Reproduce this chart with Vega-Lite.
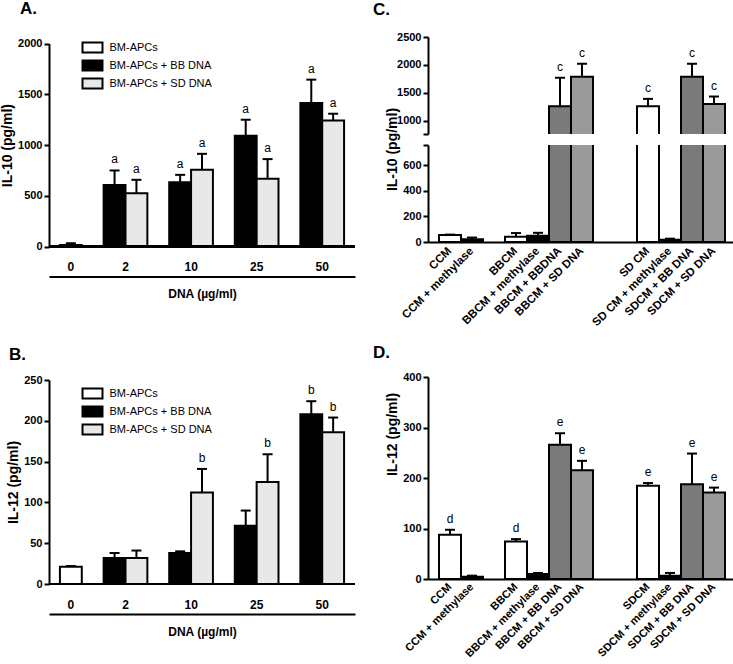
{
  "$schema": "https://vega.github.io/schema/vega-lite/v6.json",
  "padding": {"left": 0, "top": 0, "right": 0, "bottom": 0},
  "config": {
    "font": "Liberation Sans",
    "view": {"stroke": null},
    "axis": {"grid": false, "domainColor": "black", "domainWidth": 2, "tickColor": "black", "tickWidth": 2, "tickSize": 5, "labelColor": "black", "labelFontWeight": "bold", "labelFontSize": 11, "labelPadding": 2, "titleColor": "black", "titleFontWeight": "bold", "titleFontSize": 12, "titlePadding": 3},
    "axisY": {"titleFontSize": 14, "labelOverlap": false},
    "title": {"fontSize": 17, "fontWeight": "bold", "color": "black", "anchor": "start", "frame": "group"},
    "legend": {"labelColor": "black", "labelFontSize": 11, "labelFontWeight": "normal"},
    "text": {"color": "black"}
  },
  "datasets": {
    "A": [
      {"slot": "0|BM", "series": "BM-APCs", "value": 16, "hi": 33, "letter": ""},
      {"slot": "2|BB", "series": "BM-APCs + BB DNA", "value": 608, "hi": 750, "letter": "a"},
      {"slot": "2|SD", "series": "BM-APCs + SD DNA", "value": 526, "hi": 658, "letter": "a"},
      {"slot": "10|BB", "series": "BM-APCs + BB DNA", "value": 635, "hi": 707, "letter": "a"},
      {"slot": "10|SD", "series": "BM-APCs + SD DNA", "value": 757, "hi": 914, "letter": "a"},
      {"slot": "25|BB", "series": "BM-APCs + BB DNA", "value": 1092, "hi": 1250, "letter": "a"},
      {"slot": "25|SD", "series": "BM-APCs + SD DNA", "value": 668, "hi": 862, "letter": "a"},
      {"slot": "50|BB", "series": "BM-APCs + BB DNA", "value": 1414, "hi": 1645, "letter": "a"},
      {"slot": "50|SD", "series": "BM-APCs + SD DNA", "value": 1243, "hi": 1309, "letter": "a"}
    ],
    "B": [
      {"slot": "0|BM", "series": "BM-APCs", "value": 21, "hi": 22, "letter": ""},
      {"slot": "2|BB", "series": "BM-APCs + BB  DNA", "value": 32, "hi": 38, "letter": ""},
      {"slot": "2|SD", "series": "BM-APCs + SD DNA", "value": 32, "hi": 41, "letter": ""},
      {"slot": "10|BB", "series": "BM-APCs + BB  DNA", "value": 38, "hi": 40, "letter": ""},
      {"slot": "10|SD", "series": "BM-APCs + SD DNA", "value": 112, "hi": 141, "letter": "b"},
      {"slot": "25|BB", "series": "BM-APCs + BB  DNA", "value": 71.5, "hi": 90, "letter": ""},
      {"slot": "25|SD", "series": "BM-APCs + SD DNA", "value": 125, "hi": 159, "letter": "b"},
      {"slot": "50|BB", "series": "BM-APCs + BB  DNA", "value": 208, "hi": 224, "letter": "b"},
      {"slot": "50|SD", "series": "BM-APCs + SD DNA", "value": 186, "hi": 204, "letter": "b"}
    ],
    "C": [
      {"cat": "CCM", "kind": "medium", "value": 55, "hi": 58, "letter": ""},
      {"cat": "CCM + methylase", "kind": "methylase", "value": 22, "hi": 35, "letter": ""},
      {"cat": "BBCM", "kind": "medium", "value": 42, "hi": 70, "letter": ""},
      {"cat": "BBCM + methylase", "kind": "methylase", "value": 48, "hi": 72, "letter": ""},
      {"cat": "BBCM + BBDNA", "kind": "BB DNA", "value": 1257, "hi": 1769, "letter": "c"},
      {"cat": "BBCM + SD DNA", "kind": "SD DNA", "value": 1786, "hi": 2020, "letter": "c"},
      {"cat": "SD CM", "kind": "medium", "value": 1257, "hi": 1390, "letter": "c"},
      {"cat": "SD CM + methylase", "kind": "methylase", "value": 18, "hi": 26, "letter": ""},
      {"cat": "SDCM + BB DNA", "kind": "BB DNA", "value": 1786, "hi": 2020, "letter": "c"},
      {"cat": "SDCM + SD DNA", "kind": "SD DNA", "value": 1300, "hi": 1432, "letter": "c"}
    ],
    "D": [
      {"cat": "CCM", "kind": "medium", "value": 87.6, "hi": 97.5, "letter": "d"},
      {"cat": "CCM + methylase", "kind": "methylase", "value": 4.6, "hi": 6.6, "letter": ""},
      {"cat": "BBCM", "kind": "medium", "value": 74.5, "hi": 79, "letter": "d"},
      {"cat": "BBCM + methylase", "kind": "methylase", "value": 9.9, "hi": 11.9, "letter": ""},
      {"cat": "BBCM + BB DNA", "kind": "BB DNA", "value": 265.6, "hi": 288.6, "letter": "e"},
      {"cat": "BBCM + SD DNA", "kind": "SD DNA", "value": 215.5, "hi": 234, "letter": "e"},
      {"cat": "SDCM", "kind": "medium", "value": 184.5, "hi": 190, "letter": "e"},
      {"cat": "SDCM + methylase", "kind": "methylase", "value": 6.6, "hi": 12, "letter": ""},
      {"cat": "SDCM + BB DNA", "kind": "BB DNA", "value": 187.8, "hi": 248.4, "letter": "e"},
      {"cat": "SDCM + SD DNA", "kind": "SD DNA", "value": 171.3, "hi": 181, "letter": "e"}
    ]
  },
  "hconcat": [
    {
      "vconcat": [
        {
          "width": 306, "height": 209.6,
          "data": {"name": "A"},
          "title": {"text": "A.", "dx": -29, "offset": 19},
          "layer": [
            {
              "mark": {"type": "bar", "stroke": "black", "strokeWidth": 2},
              "encoding": {
                "x": {"field": "slot", "type": "nominal",
                  "scale": {"domain": ["0|BM", "_g1", "2|BB", "2|SD", "_g2", "10|BB", "10|SD", "_g3", "25|BB", "25|SD", "_g4", "50|BB", "50|SD"], "paddingInner": 0, "paddingOuter": 0.5},
                  "axis": {"title": "DNA  (µg/ml)", "offset": 30, "ticks": false, "tickSize": 0, "labelAngle": 0, "labelPadding": -10, "labelBaseline": "middle", "labelFontSize": 12, "labelOverlap": false,
                    "labelExpr": "datum.value == '0|BM' ? '0' : (indexof(datum.value, '|BB') > 0 ? slice(datum.value, 0, indexof(datum.value, '|')) : '')",
                    "labelOffset": {"condition": {"test": "datum.value == '0|BM'", "value": 0}, "value": 11},
                    "titlePadding": 12}},
                "y": {"field": "value", "type": "quantitative", "scale": {"domain": [0, 2000], "nice": false, "range": [209.6, 6.6]},
                  "axis": {"values": [0, 500, 1000, 1500, 2000], "tickCount": 10, "format": "d", "title": "IL-10 (pg/ml)", "labelOverlap": false}},
                "fill": {"field": "series", "type": "nominal",
                  "scale": {"domain": ["BM-APCs", "BM-APCs + BB DNA", "BM-APCs + SD DNA"], "range": ["#ffffff", "#000000", "#e8e8e8"]},
                  "legend": {"orient": "none", "legendX": 35.5, "legendY": 2.6, "title": null, "padding": 0, "symbolType": "M-1.481,-0.741H1.481V0.741H-1.481Z", "symbolSize": 182, "symbolStrokeColor": "black", "symbolStrokeWidth": 2, "symbolOpacity": 1, "labelOffset": 9, "rowPadding": 0}}
              }
            },
            {"mark": {"type": "rule", "strokeWidth": 2, "color": "black"},
             "encoding": {"x": {"field": "slot", "type": "nominal"}, "y": {"field": "value", "type": "quantitative"}, "y2": {"field": "hi"}}},
            {"mark": {"type": "tick", "thickness": 2, "size": 10, "color": "black", "opacity": 1},
             "encoding": {"x": {"field": "slot", "type": "nominal"}, "y": {"field": "hi", "type": "quantitative"}}},
            {"mark": {"type": "text", "dy": -7, "baseline": "alphabetic", "fontSize": 12, "color": "black"},
             "encoding": {"x": {"field": "slot", "type": "nominal"}, "y": {"field": "hi", "type": "quantitative"}, "text": {"field": "letter"}}},
            {"mark": {"type": "rule", "strokeWidth": 2, "color": "black"}, "encoding": {"y": {"datum": 0}}}
          ]
        },
        {
          "width": 306, "height": 204,
          "data": {"name": "B"},
          "title": {"text": "B.", "dx": -40, "offset": 10},
          "layer": [
            {
              "mark": {"type": "bar", "stroke": "black", "strokeWidth": 2},
              "encoding": {
                "x": {"field": "slot", "type": "nominal",
                  "scale": {"domain": ["0|BM", "_g1", "2|BB", "2|SD", "_g2", "10|BB", "10|SD", "_g3", "25|BB", "25|SD", "_g4", "50|BB", "50|SD"], "paddingInner": 0, "paddingOuter": 0.5},
                  "axis": {"title": "DNA  (µg/ml)", "offset": 30, "ticks": false, "tickSize": 0, "labelAngle": 0, "labelPadding": -10, "labelBaseline": "middle", "labelFontSize": 12, "labelOverlap": false,
                    "labelExpr": "datum.value == '0|BM' ? '0' : (indexof(datum.value, '|BB') > 0 ? slice(datum.value, 0, indexof(datum.value, '|')) : '')",
                    "labelOffset": {"condition": {"test": "datum.value == '0|BM'", "value": 0}, "value": 11},
                    "titlePadding": 12}},
                "y": {"field": "value", "type": "quantitative", "scale": {"domain": [0, 250], "nice": false},
                  "axis": {"values": [0, 50, 100, 150, 200, 250], "tickCount": 10, "format": "d", "title": "IL-12 (pg/ml)", "labelOverlap": false}},
                "fill": {"field": "series", "type": "nominal",
                  "scale": {"domain": ["BM-APCs", "BM-APCs + BB  DNA", "BM-APCs + SD DNA"], "range": ["#ffffff", "#000000", "#e8e8e8"]},
                  "legend": {"orient": "none", "legendX": 35.5, "legendY": 5.5, "title": null, "padding": 0, "symbolType": "M-1.481,-0.741H1.481V0.741H-1.481Z", "symbolSize": 182, "symbolStrokeColor": "black", "symbolStrokeWidth": 2, "symbolOpacity": 1, "labelOffset": 9, "rowPadding": 0}}
              }
            },
            {"mark": {"type": "rule", "strokeWidth": 2, "color": "black"},
             "encoding": {"x": {"field": "slot", "type": "nominal"}, "y": {"field": "value", "type": "quantitative"}, "y2": {"field": "hi"}}},
            {"mark": {"type": "tick", "thickness": 2, "size": 10, "color": "black", "opacity": 1},
             "encoding": {"x": {"field": "slot", "type": "nominal"}, "y": {"field": "hi", "type": "quantitative"}}},
            {"mark": {"type": "text", "dy": -7, "baseline": "alphabetic", "fontSize": 12, "color": "black"},
             "encoding": {"x": {"field": "slot", "type": "nominal"}, "y": {"field": "hi", "type": "quantitative"}, "text": {"field": "letter"}}},
            {"mark": {"type": "rule", "strokeWidth": 2, "color": "black"}, "encoding": {"y": {"datum": 0}}}
          ]
        }
      ],
      "spacing": 133,
      "bounds": "flush",
      "resolve": {"scale": {"fill": "independent"}, "legend": {"fill": "independent"}}
    },
    {
      "vconcat": [
        {
          "vconcat": [
            {
              "width": 308, "height": 97,
              "data": {"name": "C"},
              "title": {"text": "C.", "dx": -55, "offset": 12},
              "layer": [
                {
                  "mark": {"type": "bar", "stroke": "black", "strokeWidth": 2, "clip": true},
                  "encoding": {
                    "x": {"field": "cat", "type": "nominal",
                      "scale": {"domain": ["CCM", "CCM + methylase", "_g1", "BBCM", "BBCM + methylase", "BBCM + BBDNA", "BBCM + SD DNA", "_g2", "_g3", "SD CM", "SD CM + methylase", "SDCM + BB DNA", "SDCM + SD DNA"], "paddingInner": 0, "paddingOuter": 0.5},
                      "axis": null},
                    "y": {"field": "value", "type": "quantitative", "scale": {"domain": [760, 2500], "zero": false, "nice": false},
                      "axis": {"values": [760, 1000, 1500, 2000, 2500], "tickCount": 20, "format": "d", "labelExpr": "datum.value == 760 ? '' : datum.label", "title": null, "labelOverlap": false}},
                    "y2": {"datum": 0},
                    "fill": {"field": "kind", "type": "nominal", "scale": {"domain": ["medium", "methylase", "BB DNA", "SD DNA"], "range": ["#ffffff", "#000000", "#7a7a7a", "#9a9a9a"]}, "legend": null}
                  }
                },
                {"transform": [{"filter": "datum.value > 760"}],
                 "mark": {"type": "rule", "strokeWidth": 2, "color": "black"},
                 "encoding": {"x": {"field": "cat", "type": "nominal"}, "y": {"field": "value", "type": "quantitative"}, "y2": {"field": "hi"}}},
                {"transform": [{"filter": "datum.value > 760"}],
                 "mark": {"type": "tick", "thickness": 2, "size": 10, "color": "black", "opacity": 1},
                 "encoding": {"x": {"field": "cat", "type": "nominal"}, "y": {"field": "hi", "type": "quantitative"}}},
                {"transform": [{"filter": "datum.value > 760"}],
                 "mark": {"type": "text", "dy": -7, "baseline": "alphabetic", "fontSize": 12, "color": "black"},
                 "encoding": {"x": {"field": "cat", "type": "nominal"}, "y": {"field": "hi", "type": "quantitative"}, "text": {"field": "letter"}}}
              ]
            },
            {
              "width": 308, "height": 97,
              "data": {"name": "C"},
              "layer": [
                {
                  "mark": {"type": "bar", "stroke": "black", "strokeWidth": 2, "clip": true},
                  "encoding": {
                    "x": {"field": "cat", "type": "nominal",
                      "scale": {"domain": ["CCM", "CCM + methylase", "_g1", "BBCM", "BBCM + methylase", "BBCM + BBDNA", "BBCM + SD DNA", "_g2", "_g3", "SD CM", "SD CM + methylase", "SDCM + BB DNA", "SDCM + SD DNA"], "paddingInner": 0, "paddingOuter": 0.5},
                      "axis": {"title": null, "ticks": false, "labelAngle": -45, "labelAlign": "right", "labelBaseline": "middle", "labelPadding": 7, "labelFontSize": 11.5, "labelOverlap": false, "labelExpr": "indexof(datum.value, '_g') == 0 ? '' : datum.value"}},
                    "y": {"field": "value", "type": "quantitative", "scale": {"domain": [0, 760], "nice": false},
                      "axis": {"values": [0, 200, 400, 600, 760], "tickCount": 20, "format": "d", "labelExpr": "datum.value == 760 ? '' : datum.label", "title": "IL-10  (pg/ml)", "titleY": 4, "labelOverlap": false}},
                    "fill": {"field": "kind", "type": "nominal", "scale": {"domain": ["medium", "methylase", "BB DNA", "SD DNA"], "range": ["#ffffff", "#000000", "#7a7a7a", "#9a9a9a"]}, "legend": null}
                  }
                },
                {"transform": [{"filter": "datum.value < 760"}],
                 "mark": {"type": "rule", "strokeWidth": 2, "color": "black"},
                 "encoding": {"x": {"field": "cat", "type": "nominal"}, "y": {"field": "value", "type": "quantitative"}, "y2": {"field": "hi"}}},
                {"transform": [{"filter": "datum.value < 760"}],
                 "mark": {"type": "tick", "thickness": 2, "size": 10, "color": "black", "opacity": 1},
                 "encoding": {"x": {"field": "cat", "type": "nominal"}, "y": {"field": "hi", "type": "quantitative"}}}
              ]
            }
          ],
          "spacing": 11,
          "bounds": "flush",
          "resolve": {"scale": {"fill": "independent"}}
        },
        {
          "width": 308, "height": 202,
          "data": {"name": "D"},
          "title": {"text": "D.", "dx": -55, "offset": 9},
          "layer": [
            {
              "mark": {"type": "bar", "stroke": "black", "strokeWidth": 2},
              "encoding": {
                "x": {"field": "cat", "type": "nominal",
                  "scale": {"domain": ["CCM", "CCM + methylase", "_g1", "BBCM", "BBCM + methylase", "BBCM + BB DNA", "BBCM + SD DNA", "_g2", "_g3", "SDCM", "SDCM + methylase", "SDCM + BB DNA", "SDCM + SD DNA"], "paddingInner": 0, "paddingOuter": 0.5},
                  "axis": {"title": null, "ticks": false, "labelAngle": -45, "labelAlign": "right", "labelBaseline": "middle", "labelPadding": 6, "labelFontSize": 11, "labelOverlap": false, "labelExpr": "indexof(datum.value, '_g') == 0 ? '' : datum.value"}},
                "y": {"field": "value", "type": "quantitative", "scale": {"domain": [0, 400], "nice": false},
                  "axis": {"values": [0, 100, 200, 300, 400], "tickCount": 10, "format": "d", "title": "IL-12  (pg/ml)", "titleY": 57, "labelOverlap": false}},
                "fill": {"field": "kind", "type": "nominal", "scale": {"domain": ["medium", "methylase", "BB DNA", "SD DNA"], "range": ["#ffffff", "#000000", "#7a7a7a", "#9a9a9a"]}, "legend": null}
              }
            },
            {"mark": {"type": "rule", "strokeWidth": 2, "color": "black"},
             "encoding": {"x": {"field": "cat", "type": "nominal"}, "y": {"field": "value", "type": "quantitative"}, "y2": {"field": "hi"}}},
            {"mark": {"type": "tick", "thickness": 2, "size": 10, "color": "black", "opacity": 1},
             "encoding": {"x": {"field": "cat", "type": "nominal"}, "y": {"field": "hi", "type": "quantitative"}}},
            {"mark": {"type": "text", "dy": -7, "baseline": "alphabetic", "fontSize": 12, "color": "black"},
             "encoding": {"x": {"field": "cat", "type": "nominal"}, "y": {"field": "hi", "type": "quantitative"}, "text": {"field": "letter"}}}
          ]
        }
      ],
      "spacing": 15,
      "bounds": "full",
      "resolve": {"scale": {"fill": "independent"}}
    }
  ],
  "spacing": 17,
  "bounds": "full",
  "resolve": {"scale": {"fill": "independent"}, "legend": {"fill": "independent"}}
}
